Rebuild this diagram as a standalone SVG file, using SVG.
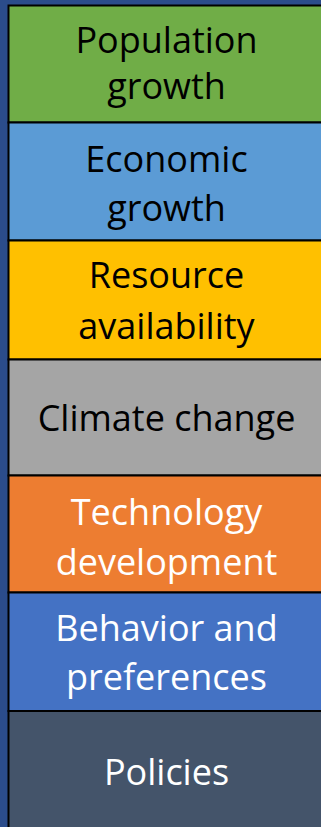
<svg xmlns="http://www.w3.org/2000/svg" width="321" height="827" viewBox="0 0 321 827">
  <style>
    .box { stroke: #000000; stroke-width: 2; }
    .lbl { font-family: "Open Sans", "Noto Sans", "Liberation Sans", sans-serif; font-size: 36px; text-anchor: middle; }
    .dark { fill: #000000; }
    .light { fill: #FFFFFF; }
  </style>
  <!-- backdrop -->
  <rect x="0" y="0" width="321" height="827" fill="#2B4C8B"/>

  <g id="population-growth">
    <rect class="box" x="8.5" y="5.5" width="320" height="117" fill="#70AD47"/>
    <text class="lbl dark" x="166.5" y="53">Population</text>
    <text class="lbl dark" x="166.5" y="99">growth</text>
  </g>

  <g id="economic-growth">
    <rect class="box" x="8.5" y="122.5" width="320" height="118" fill="#5B9BD5"/>
    <text class="lbl dark" x="166.5" y="172">Economic</text>
    <text class="lbl dark" x="166.5" y="221">growth</text>
  </g>

  <g id="resource-availability">
    <rect class="box" x="8.5" y="240.5" width="320" height="119" fill="#FFC000"/>
    <text class="lbl dark" x="166.5" y="288">Resource</text>
    <text class="lbl dark" x="166.5" y="339">availability</text>
  </g>

  <g id="climate-change">
    <rect class="box" x="8.5" y="359.5" width="320" height="116" fill="#A5A5A5"/>
    <text class="lbl dark" x="166.5" y="431">Climate change</text>
  </g>

  <g id="technology-development">
    <rect class="box" x="8.5" y="475.5" width="320" height="117" fill="#ED7D31"/>
    <text class="lbl light" x="166.5" y="525">Technology</text>
    <text class="lbl light" x="166.5" y="575">development</text>
  </g>

  <g id="behavior-preferences">
    <rect class="box" x="8.5" y="592.5" width="320" height="118.5" fill="#4472C4"/>
    <text class="lbl light" x="166.5" y="641">Behavior and</text>
    <text class="lbl light" x="166.5" y="690">preferences</text>
  </g>

  <g id="policies">
    <rect class="box" x="8.5" y="711" width="320" height="125" fill="#44546A"/>
    <text class="lbl light" x="166.5" y="785">Policies</text>
  </g>

  <!-- stacked layout: no connectors -->
  <g id="connectors"/>
</svg>
